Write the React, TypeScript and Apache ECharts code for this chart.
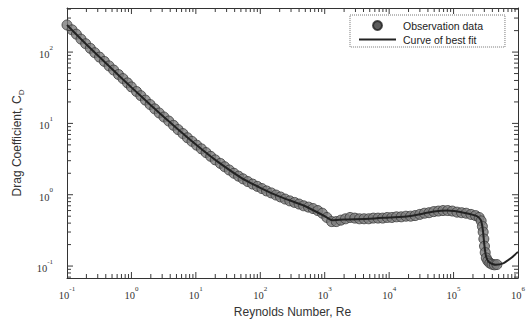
import React, { useEffect, useRef } from "react";
import * as echarts from "echarts";

// Observation data (Reynolds number, drag coefficient)
const obsRe = [0.1, 0.12, 0.14, 0.165, 0.195, 0.23, 0.27, 0.32, 0.38, 0.45, 0.53, 0.63, 0.74, 0.87, 1.0, 1.2, 1.4, 1.65, 1.95, 2.3, 2.7, 3.2, 3.8, 4.5, 5.3, 6.3, 7.4, 8.7, 10.3, 12.2, 14.4, 17, 20, 24, 28, 33, 39, 46, 54, 64, 76, 90, 106, 125, 148, 175, 206, 243, 287, 340, 400, 470, 560, 660, 780, 920, 1080, 1280, 1510, 1780, 2100, 2480, 2930, 3460, 4080, 4820, 5690, 6720, 7930, 9360, 11000, 13000, 15400, 18200, 21500, 25300, 29900, 35300, 41700, 49200, 58100, 68600, 81000, 95600, 113000, 133000, 157000, 186000, 219000, 250000, 268000, 280000, 288000, 295000, 302000, 310000, 322000, 340000, 365000, 395000, 430000, 470000];
const obsCd = [240, 205, 178, 152, 131, 113, 98, 85, 74, 64, 56, 48.5, 42.5, 37, 32.5, 28, 24.5, 21.2, 18.4, 16, 14, 12.3, 10.8, 9.4, 8.2, 7.2, 6.3, 5.6, 4.95, 4.4, 3.9, 3.45, 3.08, 2.75, 2.47, 2.22, 2.0, 1.82, 1.67, 1.53, 1.41, 1.31, 1.22, 1.13, 1.06, 0.99, 0.93, 0.87, 0.82, 0.78, 0.74, 0.7, 0.67, 0.64, 0.6, 0.55, 0.48, 0.42, 0.42, 0.44, 0.46, 0.48, 0.47, 0.46, 0.46, 0.46, 0.47, 0.47, 0.47, 0.48, 0.48, 0.49, 0.49, 0.5, 0.5, 0.51, 0.53, 0.55, 0.56, 0.58, 0.59, 0.6, 0.6, 0.59, 0.57, 0.56, 0.55, 0.53, 0.51, 0.48, 0.43, 0.36, 0.3, 0.24, 0.19, 0.155, 0.13, 0.118, 0.11, 0.106, 0.104, 0.105];

// Curve of best fit
const fitRe = [0.1, 0.2, 0.5, 1, 2, 5, 10, 20, 50, 100, 200, 500, 1000, 1300, 2000, 5000, 10000, 20000, 50000, 80000, 150000, 230000, 265000, 285000, 300000, 320000, 360000, 450000, 600000, 800000, 1000000];
const fitCd = [240, 128, 58, 32, 18, 8.6, 5.05, 3.08, 1.74, 1.25, 0.94, 0.69, 0.5, 0.44, 0.45, 0.46, 0.48, 0.5, 0.58, 0.6, 0.555, 0.5, 0.44, 0.32, 0.2, 0.135, 0.112, 0.104, 0.11, 0.132, 0.158];

const xMin = 0.1;
const xMax = 1000000;
const yMin = 0.068;
const yMax = 415;

const xDecades = [-1, 0, 1, 2, 3, 4, 5, 6];
const yDecades = [-2, -1, 0, 1, 2];
const minorSteps = [2, 3, 4, 5, 6, 7, 8, 9];

const powLabel = (v: number) => {
  const e = Math.log10(v);
  const r = Math.round(e);
  if (Math.abs(e - r) > 1e-6) return "";
  return `{b|10}{s|${r}}`;
};

const labelRich = {
  b: { fontSize: 10.5, fontFamily: "Liberation Serif", color: "#333", lineHeight: 16, verticalAlign: "bottom" },
  s: { fontSize: 7, fontFamily: "Liberation Serif", color: "#333", lineHeight: 8, verticalAlign: "top" },
};

const axisCommon = {
  type: "log",
  logBase: 10,
  axisLine: { show: true, lineStyle: { color: "#333", width: 1 } },
  axisTick: { show: false },
  minorTick: { show: false },
  splitLine: { show: false },
  minorSplitLine: { show: false },
};

const tickStyle = { stroke: "#3a3a3a", lineWidth: 1 };

export default function App() {
  const ref = useRef<HTMLDivElement>(null);
  useEffect(() => {
    if (!ref.current) return;
    const chart = echarts.init(ref.current, undefined, { renderer: "svg" });
    const obs = obsRe.map((r, i) => [r, obsCd[i]]);
    const fit = fitRe.map((r, i) => [r, fitCd[i]]);

    // tick positions: [value, length]
    const xTicks: number[][] = [];
    const yTicks: number[][] = [];
    xDecades.forEach((k) => {
      const major = Math.pow(10, k);
      if (major > xMin && major < xMax) xTicks.push([major, 6]);
      minorSteps.forEach((m) => {
        const v = m * Math.pow(10, k);
        if (v > xMin && v < xMax) xTicks.push([v, 4]);
      });
    });
    yDecades.forEach((k) => {
      const major = Math.pow(10, k);
      if (major > yMin && major < yMax) yTicks.push([6, major]);
      minorSteps.forEach((m) => {
        const v = m * Math.pow(10, k);
        if (v > yMin && v < yMax) yTicks.push([4, v]);
      });
    });

    const tickSeries = (data: number[][], side: string) => ({
      type: "custom",
      data,
      clip: false,
      silent: true,
      z: 5,
      renderItem: (_p: any, api: any) => {
        if (side === "bottom" || side === "top") {
          const len = api.value(1);
          const p = api.coord([api.value(0), side === "bottom" ? yMin : yMax]);
          const d = side === "bottom" ? -len : len;
          return { type: "line", shape: { x1: p[0], y1: p[1], x2: p[0], y2: p[1] + d }, style: tickStyle };
        }
        const len = api.value(0);
        const p = api.coord([side === "left" ? xMin : xMax, api.value(1)]);
        const d = side === "left" ? len : -len;
        return { type: "line", shape: { x1: p[0], y1: p[1], x2: p[0] + d, y2: p[1] }, style: tickStyle };
      },
    });

    chart.setOption({
      animation: false,
      backgroundColor: "#fff",
      grid: { left: 67, right: 4, top: 8, bottom: 45, containLabel: false },
      legend: {
        left: 350,
        top: 15,
        orient: "vertical",
        padding: [5, 22, 2, 8],
        itemGap: 3,
        itemWidth: 37,
        itemHeight: 9,
        borderColor: "#777",
        borderWidth: 1,
        borderType: "dotted",
        backgroundColor: "#fff",
        textStyle: { fontFamily: "Liberation Sans", fontSize: 10.5, color: "#222", padding: [0, 0, 0, 2] },
        data: [
          { name: "Observation data", icon: "circle", itemStyle: { color: "#333", borderColor: "#222" } },
          { name: "Curve of best fit", itemStyle: { opacity: 0, color: "transparent", borderWidth: 0 } },
        ],
      },
      xAxis: [
        {
          ...axisCommon,
          min: xMin,
          max: xMax,
          position: "bottom",
          name: "Reynolds Number, Re",
          nameLocation: "middle",
          nameGap: 28,
          nameTextStyle: { fontFamily: "Liberation Sans", fontSize: 12, color: "#333" },
          axisLabel: { show: true, margin: 7, formatter: powLabel, rich: labelRich },
        },
        {
          ...axisCommon,
          min: xMin,
          max: xMax,
          position: "top",
          axisLabel: { show: false },
        },
      ],
      yAxis: [
        {
          ...axisCommon,
          min: yMin,
          max: yMax,
          position: "left",
          name: "{n|Drag Coefficient, C}{d|D}",
          nameLocation: "middle",
          nameGap: 42,
          nameTextStyle: {
            rich: {
              n: { fontFamily: "Liberation Sans", fontSize: 12, color: "#333", lineHeight: 14, verticalAlign: "top" },
              d: { fontFamily: "Liberation Sans", fontSize: 8, color: "#333", lineHeight: 8, verticalAlign: "bottom" },
            },
          },
          axisLabel: { show: true, margin: 14, formatter: powLabel, rich: labelRich },
        },
        {
          ...axisCommon,
          min: yMin,
          max: yMax,
          position: "right",
          axisLabel: { show: false },
        },
      ],
      series: [
        tickSeries(xTicks, "bottom"),
        tickSeries(xTicks, "top"),
        tickSeries(yTicks, "left"),
        tickSeries(yTicks, "right"),
        {
          name: "Observation data",
          type: "scatter",
          data: obs,
          symbol: "circle",
          symbolSize: 10,
          itemStyle: { color: "#7c7c7c", borderColor: "#383838", borderWidth: 1 },
          z: 2,
        },
        {
          name: "Curve of best fit",
          type: "line",
          data: fit,
          symbol: "none",
          smooth: 0.2,
          lineStyle: { color: "#222", width: 2 },
          itemStyle: { color: "#222" },
          z: 3,
        },
      ],
    });
    return () => chart.dispose();
  }, []);
  return (
    <div
      ref={ref}
      style={{ position: "fixed", left: 0, top: 0, width: 528, height: 323, background: "#fff" }}
    />
  );
}
